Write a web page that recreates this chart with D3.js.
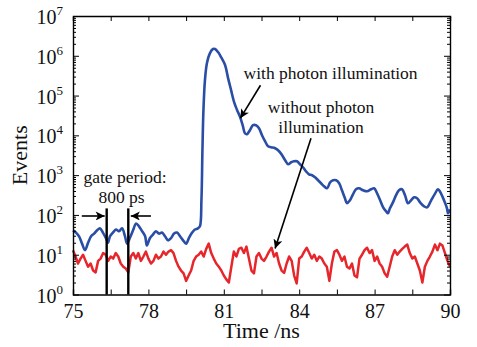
<!DOCTYPE html>
<html>
<head>
<meta charset="utf-8">
<script src="https://cdn.jsdelivr.net/npm/d3@7"></script>
<style>
  body { margin: 0; background: #fff; }
  svg { display: block; }
</style>
</head>
<body>
<div id="chart"></div>
<script>
// blue: with photon illumination (time in ns, events)
blueTime = [75.00, 75.12, 75.24, 75.36, 75.48, 75.60, 75.72, 75.84, 75.96, 76.07, 76.19, 76.31, 76.39, 76.47, 76.59, 76.71,
   76.83, 76.95, 77.07, 77.15, 77.27, 77.39, 77.51, 77.63, 77.75, 77.87, 77.94, 78.06, 78.18, 78.30, 78.42, 78.54, 78.66,
   78.78, 78.90, 79.02, 79.14, 79.26, 79.38, 79.50, 79.62, 79.74, 79.85, 79.97, 80.05, 80.11, 80.15, 80.19, 80.25, 80.33,
   80.45, 80.57, 80.65, 80.77, 80.89, 81.05, 81.17, 81.29, 81.41, 81.53, 81.65, 81.76, 81.84, 81.92, 82.04, 82.16, 82.28,
   82.40, 82.52, 82.64, 82.76, 82.88, 83.04, 83.20, 83.32, 83.44, 83.56, 83.68, 83.79, 83.91, 84.03, 84.15, 84.27, 84.39,
   84.51, 84.63, 84.75, 84.87, 84.99, 85.11, 85.23, 85.35, 85.47, 85.59, 85.70, 85.82, 85.90, 86.02, 86.14, 86.26, 86.38,
   86.54, 86.70, 86.86, 86.98, 87.10, 87.22, 87.34, 87.46, 87.53, 87.61, 87.73, 87.85, 87.97, 88.09, 88.21, 88.33, 88.45,
   88.57, 88.69, 88.81, 88.97, 89.09, 89.25, 89.41, 89.52, 89.64, 89.76, 89.88, 89.92, 90.00]
blueCounts = [41, 36, 29, 19, 13, 20, 29, 34, 41, 46, 36, 26, 20, 29, 36, 43, 39, 46, 29, 19, 27, 41, 61, 51, 39, 29, 17,
   26, 32, 39, 34, 36, 29, 23, 26, 34, 36, 29, 23, 19, 27, 36, 43, 46, 52, 233, 4230, 43000, 245000, 656000, 1170000,
   1480000, 1480000, 1240000, 929000, 585000, 275000, 137000, 68400, 43000, 28700, 17000, 11300, 10700, 13500, 18000,
   18000, 15100, 10100, 7130, 5330, 5030, 4750, 3990, 3160, 2370, 1880, 2110, 2230, 2230, 1880, 1580, 1250, 1050, 993,
   884, 743, 624, 525, 467, 661, 743, 743, 624, 416, 262, 196, 233, 330, 441, 467, 416, 393, 441, 467, 349, 233, 155, 123,
   110, 147, 207, 311, 416, 441, 311, 196, 233, 277, 262, 207, 164, 155, 233, 349, 441, 349, 233, 147, 110, 138]

// red: without photon illumination, sampled every 0.1 ns from 75 ns
redStart = 75
redStep = 0.1
redCounts = [13, 9, 6, 8, 10, 7, 5, 6, 4, 3.6, 7, 8, 11, 10, 7, 9, 8, 11, 9, 6, 5, 4.5, 3.6, 9, 11, 8, 11, 7, 9, 12, 8, 6, 7,
   10, 8, 9, 12, 10, 12, 13, 11, 7, 5, 4, 3.4, 2.2, 3, 4, 7, 9, 10, 12, 9, 14, 19, 11, 8, 6, 5, 4, 3, 2.4, 2, 5, 12, 9, 14,
   15, 11, 16, 8, 4, 3.4, 9, 11, 8, 7, 9, 12, 15, 9, 11, 6, 4, 3.5, 6, 9, 7, 3, 1.9, 8, 9, 12, 15, 11, 8, 10, 7, 9, 8, 6,
   5, 2.2, 6, 12, 13, 10, 7, 9, 5, 4.5, 6, 3, 2.7, 8, 10, 13, 15, 11, 13, 7, 9, 6, 5, 3.4, 2.8, 5, 9, 13, 10, 12, 14, 16,
   18, 11, 8, 9, 6, 4, 2, 5, 7, 9, 12, 18, 13, 19, 17, 11, 7, 5]

xTicks = [75, 76.5, 78, 79.5, 81, 82.5, 84, 85.5, 87, 88.5, 90]
xLabels = [75, 78, 81, 84, 87, 90]
yDecades = [0, 1, 2, 3, 4, 5, 6, 7]

// gate period markers (ns) and annotation anchors (ns, events)
gateLines = [76.34, 77.2]
notes = [
   { text: "with photon illumination", t: 85.25, v: 2.6e5 },
   { text: "without photon", t: 84.87, v: 3.6e4 },
   { text: "illumination", t: 84.87, v: 1.13e4 },
   { text: "gate period:", t: 77.07, v: 640 },
   { text: "800 ps", t: 76.93, v: 205 }
]
arrows = [
   { t0: 82.46, v0: 1.82e5, t1: 81.66, v1: 2.7e4 },
   { t0: 84.47, v0: 8.5e3, t1: 83.04, v1: 14.4 },
   { t0: 75.35, v0: 94, t1: 76.26, v1: 94 },
   { t0: 78.1, v0: 94, t1: 77.3, v1: 94 }
]

width = 477
height = 347
margin = ({ top: 16, right: 27, bottom: 52.5, left: 73 })
font = "'Liberation Serif', 'Times New Roman', serif"

x = d3.scaleLinear()
   .domain([75, 90])
   .range([margin.left, width - margin.right])

y = d3.scaleLog()
   .domain([1, 1e7])
   .range([height - margin.bottom, margin.top])

blue = blueTime.map((t, i) => ({ t: t, v: blueCounts[i] }))
red = redCounts.map((v, i) => ({ t: redStart + i * redStep, v: v }))

minorY = []
yDecades.slice(0, -1).forEach(p => {
   for (k = 2; k < 10; k++) minorY.push(k * Math.pow(10, p))
})

const svg = d3.create("svg")
   .attr("width", width)
   .attr("height", height)
   .attr("viewBox", [0, 0, width, height])
   .style("font-family", font);

svg.append("rect").attr("width", width).attr("height", height).attr("fill", "#fff")

line = d3.line()
   .x(d => x(d.t))
   .y(d => y(d.v))

svg.append("path")
   .datum(red)
   .attr("fill", "none")
   .attr("stroke", "#e6262b")
   .attr("stroke-width", 2.5)
   .attr("stroke-linejoin", "round")
   .attr("d", line)

svg.append("path")
   .datum(blue)
   .attr("fill", "none")
   .attr("stroke", "#2a4ea6")
   .attr("stroke-width", 2.6)
   .attr("stroke-linejoin", "round")
   .attr("d", d3.line().curve(d3.curveCatmullRom).x(d => x(d.t)).y(d => y(d.v)))

// gate lines
svg.append("g")
   .attr("stroke", "#000")
   .attr("stroke-width", 2.4)
   .selectAll("line")
   .data(gateLines)
   .join("line")
   .attr("x1", d => x(d))
   .attr("x2", d => x(d))
   .attr("y1", y(146))
   .attr("y2", y(1))

// axes: bottom / top
svg.append("g")
   .attr("transform", `translate(0,${y(1)})`)
   .call(d3.axisBottom(x).tickValues(xTicks).tickSize(-5).tickPadding(9)
      .tickFormat(d => xLabels.includes(d) ? d : ""))
   .call(g => g.select(".domain").attr("stroke-width", 1.4))
   .call(g => g.selectAll("text").attr("font-size", 20).attr("font-family", font).attr("fill", "#111"))

svg.append("g")
   .attr("transform", `translate(0,${y(1e7)})`)
   .call(d3.axisTop(x).tickValues(xTicks).tickSize(-5).tickFormat(""))
   .call(g => g.select(".domain").attr("stroke-width", 1.4))

// axes: left / right, major + minor
;[["left", margin.left], ["right", width - margin.right]].forEach(([side, pos]) => {
   const ax = side == "left" ? d3.axisLeft : d3.axisRight
   svg.append("g")
      .attr("transform", `translate(${pos},0)`)
      .call(ax(y).tickValues(minorY).tickSize(-3).tickFormat(""))
      .call(g => g.select(".domain").remove())
   svg.append("g")
      .attr("transform", `translate(${pos},0)`)
      .call(ax(y).tickValues(yDecades.map(p => Math.pow(10, p))).tickSize(-6).tickSizeOuter(0).tickFormat(""))
      .call(g => g.select(".domain").attr("stroke-width", 1.4))
})

// y labels 10^n
yl = svg.append("g")
   .attr("font-size", 20)
   .attr("fill", "#111")
   .attr("text-anchor", "end")
   .selectAll("text")
   .data(yDecades)
   .join("text")
   .attr("x", margin.left - 10)
   .attr("y", d => y(Math.pow(10, d)) + 8)
yl.append("tspan").text("10")
yl.append("tspan").attr("font-size", 13).attr("dy", -9).text(d => d)

// axis titles
svg.append("text")
   .attr("x", x(82.5))
   .attr("y", 338)
   .attr("text-anchor", "middle")
   .attr("font-size", 22)
   .attr("fill", "#111")
   .text("Time /ns")

svg.append("text")
   .attr("transform", `translate(27,${(y(1) + y(1e7)) / 2}) rotate(-90)`)
   .attr("text-anchor", "middle")
   .attr("font-size", 22)
   .attr("fill", "#111")
   .text("Events")

// annotations
svg.append("g")
   .attr("font-size", 17.5)
   .attr("fill", "#111")
   .attr("text-anchor", "middle")
   .selectAll("text")
   .data(notes)
   .join("text")
   .attr("x", d => x(d.t))
   .attr("y", d => y(d.v))
   .text(d => d.text)

svg.append("defs").append("marker")
   .attr("id", "head")
   .attr("viewBox", "0 0 10 10")
   .attr("refX", 10)
   .attr("refY", 5)
   .attr("markerUnits", "userSpaceOnUse")
   .attr("markerWidth", 11)
   .attr("markerHeight", 9)
   .attr("orient", "auto")
   .append("path")
   .attr("d", "M0,0 L10,5 L0,10 L2.5,5 Z")
   .attr("fill", "#000")

svg.append("g")
   .attr("stroke", "#000")
   .attr("stroke-width", 1.6)
   .selectAll("line")
   .data(arrows)
   .join("line")
   .attr("x1", d => x(d.t0))
   .attr("y1", d => y(d.v0))
   .attr("x2", d => x(d.t1))
   .attr("y2", d => y(d.v1))
   .attr("marker-end", "url(#head)")

d3.select("#chart").node().append(svg.node())
</script>
</body>
</html>
